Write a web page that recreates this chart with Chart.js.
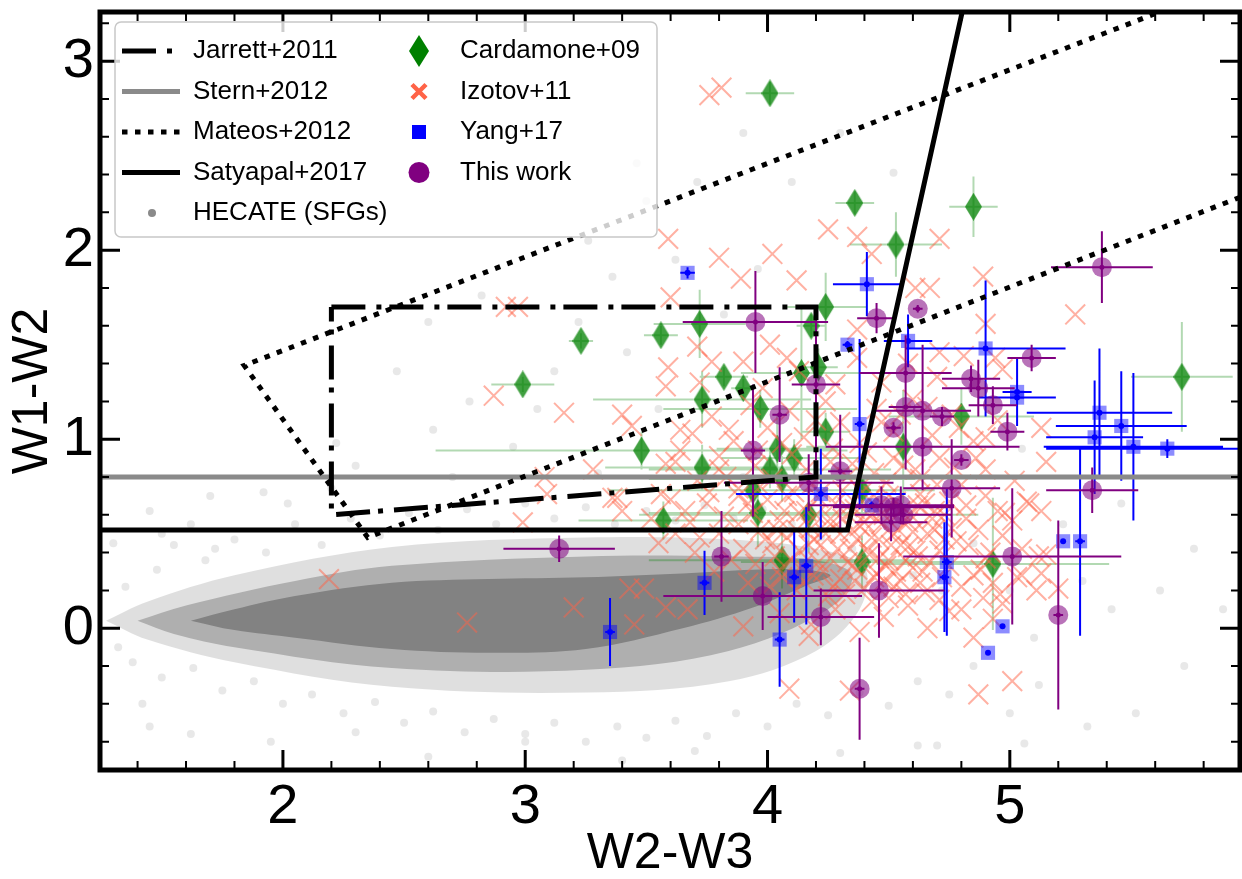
<!DOCTYPE html>
<html>
<head>
<meta charset="utf-8">
<script src="https://cdn.jsdelivr.net/npm/chart.js@4"></script>
<style>
html, body { margin: 0; padding: 0; background: #fff; }
#wrap { width: 1242px; height: 879px; }
</style>
</head>
<body>
<div id="wrap"><canvas id="c" width="1242" height="879"></canvas></div>
<script>
// axis ranges and tick labels
const xMin = 1.245, xMax = 5.95, yMin = -0.75, yMax = 3.26;
const xTickVals = [2, 3, 4, 5];
const yTickVals = [0, 1, 2, 3];

// diagnostic lines (W2-W3, W1-W2)
const jarrettBox = [[2.2, 1.7], [4.2, 1.7], [4.2, 0.8], [2.2, 0.6], [2.2, 1.7]];
const sternLine = [[1.0, 0.8], [6.2, 0.8]];
const mateosWedge = [[6.2, 3.548], [1.84, 1.39], [2.35, 0.48], [6.2, 2.405]];
const satyapalLine = [[1.0, 0.52], [4.33, 0.52], [4.85, 3.53]];

// Cardamone+09
const cardX = [4.01,4.36,4.85,4.53,4.24,4.18,3.72,3.56,3.23,2.99,3.82,3.90,3.73,3.97,4.14,4.21,4.24,3.48,3.73,4.04,4.11,4.01,4.06,3.94,3.96,3.57,4.17,4.39,4.06,4.39,4.93,4.56,4.80,5.71];
const cardY = [2.83,2.25,2.23,2.03,1.70,1.60,1.61,1.55,1.52,1.29,1.33,1.27,1.21,1.16,1.35,1.38,1.04,0.94,0.85,0.95,0.90,0.84,0.79,0.73,0.61,0.57,0.60,0.73,0.36,0.35,0.34,0.96,1.12,1.33];
const cardXerr = [0.10,0.08,0.10,0.19,0.17,0.06,0.19,0.07,0.05,0.13,0.10,0.05,0.45,0.40,0.25,0.08,0.10,0.85,0.40,0.25,0.30,0.50,0.55,0.60,0.45,0.35,0.70,0.30,0.55,0.50,0.48,0.40,0.30,0.21];
const cardYerr = [0.06,0.06,0.16,0.17,0.18,0.06,0.18,0.05,0.04,0.04,0.05,0.05,0.15,0.10,0.35,0.10,0.10,0.10,0.12,0.18,0.10,0.10,0.12,0.15,0.18,0.10,0.20,0.12,0.15,0.14,0.35,0.30,0.15,0.29];

// Yang+17
const yangX = [3.67,4.41,4.33,4.58,4.90,5.03,5.03,5.37,5.46,5.35,5.51,5.65,4.38,4.43,4.22,3.35,3.74,4.05,4.11,4.16,4.74,4.73,4.97,4.91,5.22,5.29];
const yangY = [1.88,1.82,1.50,1.52,1.48,1.25,1.22,1.14,1.07,1.01,0.96,0.95,1.08,0.65,0.71,-0.02,0.24,-0.06,0.27,0.33,0.35,0.27,0.01,-0.13,0.46,0.46];
const yangXerr = [0.03,0.14,0.02,0.10,0.33,0.06,0.16,0.30,0.27,0.20,0.37,0.50,0.02,0.15,0.35,0.02,0.02,0.02,0.02,0.02,0.02,0.02,0,0,0,0.02];
const yangYerr = [0.03,0.17,0.02,0.14,0.36,0.18,0.10,0.34,0.29,0.30,0.39,0.05,0.45,0.02,0.24,0.18,0.17,0.25,0.24,0.31,0.39,0.29,0,0,0,0.50];

// This work
const oursX = [3.95,5.38,4.62,4.45,5.09,4.57,4.84,4.87,4.93,4.57,4.64,4.72,4.99,4.52,4.64,4.80,4.76,5.34,4.05,4.20,3.94,4.30,4.17,4.47,4.52,4.55,4.51,4.56,3.14,3.81,3.98,4.22,4.46,4.38,5.01,5.20];
const oursY = [1.62,1.91,1.69,1.64,1.43,1.35,1.32,1.27,1.18,1.17,1.15,1.12,1.04,1.06,0.96,0.89,0.74,0.73,1.13,1.29,0.94,0.83,0.77,0.65,0.64,0.65,0.56,0.60,0.42,0.38,0.17,0.06,0.20,-0.32,0.38,0.07];
const oursXerr = [0.30,0.21,0.02,0.08,0.10,0.19,0.12,0.15,0.10,0.07,0.20,0.05,0.07,0.03,0.40,0.03,0.20,0.19,0.03,0.10,0.05,0.05,0.35,0.30,0.25,0.20,0.15,0.20,0.23,0.03,0.41,0.22,0.27,0.02,0.45,0.02];
const oursYerr = [0.27,0.19,0.02,0.08,0.07,0.20,0.07,0.15,0.10,0.33,0.35,0.05,0.10,0.03,0.23,0.03,0.26,0.12,0.25,0.40,0.35,0.30,0.15,0.10,0.05,0.10,0.10,0.05,0.07,0.24,0.18,0.15,0.25,0.27,0.36,0.50];

// Izotov+11 (x, y)
const izotovPts = [
  [2.19,0.26],[2.76,0.03],[3.20,0.11],[3.81,2.86],[3.76,2.82],
  [3.59,2.06],[3.80,1.96],[3.89,1.85],[4.02,1.98],[4.12,1.84],[4.25,2.11],[4.71,2.06],[4.89,1.86],[4.90,1.61],
  [3.60,1.75],[4.43,1.98],[4.61,1.80],[5.27,1.66],[2.92,1.70],[2.97,1.70],[2.87,1.23],[3.16,1.14],[3.40,1.13],
  [3.44,1.07],[3.59,1.38],[3.58,1.28],[3.69,1.03],[3.77,1.41],[3.28,0.84],[3.36,0.69],[3.09,0.71],[2.99,0.56],
  [3.64,0.94],[3.58,0.87],[3.80,0.84],[3.56,0.71],[3.38,0.69],[3.08,0.80],[3.71,1.49],[4.01,1.50],[4.08,1.43],
  [4.37,1.58],[4.37,2.07],
  [3.62,0.88],[3.71,0.78],[3.80,0.91],[3.88,0.74],[3.95,0.86],[4.02,0.79],[4.10,0.92],[4.18,0.76],[4.26,0.88],
  [4.33,0.80],[4.41,0.93],[4.49,0.77],[4.56,0.86],[4.63,0.79],[4.71,0.90],[4.80,0.76],[4.90,0.84],[5.02,0.78],[5.15,0.88],
  [3.64,1.05],[3.77,1.12],[3.86,0.99],[3.93,1.18],[4.00,1.06],[4.09,1.15],[4.15,1.01],[4.24,1.20],[4.30,1.09],
  [4.38,0.98],[4.45,1.16],[4.52,1.04],[4.60,1.21],[4.68,1.02],[4.76,1.13],[4.85,0.99],[4.95,1.10],
  [3.72,1.30],[3.90,1.41],[3.98,1.27],[4.13,1.36],[4.28,1.29],[4.37,1.43],[4.47,1.30],[4.58,1.40],[4.70,1.33],[4.81,1.44],[4.97,1.37],
  [3.40,0.62],[3.52,0.58],[3.60,0.68],[3.68,0.56],[3.75,0.66],[3.82,0.59],[3.88,0.70],[3.94,0.61],[4.00,0.68],
  [4.05,0.57],[4.11,0.72],[4.16,0.62],[4.21,0.69],[4.26,0.58],[4.31,0.73],[4.36,0.63],[4.40,0.56],[4.44,0.70],
  [4.48,0.60],[4.53,0.67],[4.58,0.56],[4.63,0.71],[4.69,0.62],[4.75,0.67],[4.82,0.58],[4.90,0.70],[4.98,0.61],[5.08,0.66],
  [3.55,0.45],[3.70,0.40],[3.80,0.50],[3.90,0.42],[3.97,0.52],[4.03,0.38],[4.08,0.48],[4.13,0.41],[4.18,0.53],
  [4.22,0.44],[4.26,0.37],[4.30,0.50],[4.34,0.42],[4.38,0.54],[4.42,0.39],[4.46,0.47],[4.50,0.36],[4.54,0.52],
  [4.58,0.43],[4.62,0.38],[4.66,0.50],[4.71,0.41],[4.76,0.53],[4.83,0.44],[4.90,0.37],[4.97,0.49],[5.05,0.42],[5.15,0.39],
  [3.78,0.30],[3.92,0.24],[4.05,0.31],[4.12,0.20],[4.19,0.28],[4.25,0.17],[4.30,0.26],[4.35,0.33],[4.40,0.21],
  [4.45,0.29],[4.50,0.16],[4.55,0.25],[4.60,0.32],[4.65,0.19],[4.72,0.27],[4.80,0.22],[4.88,0.31],[4.96,0.18],[5.03,0.27],[5.11,0.20],
  [4.05,0.08],[4.18,0.02],[4.28,0.10],[4.38,-0.02],[4.48,0.06],[4.58,0.12],[4.66,0.00],[4.75,0.09],[4.85,-0.05],[4.93,0.05],
  [4.02,0.45],[4.07,0.62],[4.14,0.33],[4.20,0.60],[4.24,0.50],[4.28,0.66],[4.33,0.35],[4.37,0.47],[4.41,0.61],
  [4.44,0.27],[4.47,0.55],[4.51,0.44],[4.55,0.62],[4.60,0.51],[4.64,0.30],[4.68,0.58],[4.73,0.47],[4.21,0.35],
  [4.27,0.22],[4.31,0.58],[4.36,0.25],[4.43,0.48],[4.49,0.33],[4.57,0.36],[4.62,0.65],[4.12,0.52],[4.06,0.27],
  [4.17,0.44],[4.52,0.22],[4.39,0.72],
  [3.45,0.02],[3.43,0.21],[3.49,0.21],[3.58,0.11],[3.67,0.10],[3.90,0.01],[4.09,-0.32],[4.17,-0.04],[4.34,-0.33],
  [4.87,-0.35],[5.01,-0.28],[5.07,0.67],[5.13,0.62],[5.01,0.57],[5.13,1.06],[4.90,1.01],[4.94,1.43],[4.71,1.46],
  [4.67,1.80],[4.89,0.16],[4.97,0.13],[4.93,0.24],[5.05,0.28],[5.13,0.29],[5.12,0.38],[5.20,0.21],
  [4.01,0.22],[4.04,0.52],[4.08,0.70],[4.10,0.36],[4.13,0.61],[4.15,0.25],[4.19,0.47],[4.22,0.72],[4.23,0.30],
  [4.26,0.55],[4.29,0.42],[4.32,0.18],[4.33,0.64],[4.35,0.52],[4.37,0.31],[4.40,0.66],[4.41,0.42],[4.43,0.14],
  [4.45,0.58],[4.46,0.37],[4.48,0.25],[4.50,0.70],[4.52,0.50],[4.53,0.30],[4.55,0.44],[4.57,0.18],[4.59,0.60],
  [4.61,0.41],[4.63,0.24],[4.65,0.66],[4.67,0.35],[4.69,0.52],[4.71,0.15],[4.73,0.60],[4.75,0.33],[4.78,0.46],
  [4.80,0.10],[4.82,0.65],[4.85,0.28],[4.87,0.52],[4.92,0.40],[4.95,0.62],[3.85,0.36],[3.88,0.55],[3.92,0.66],
  [3.95,0.34],[3.97,0.75],[3.99,0.47],[3.72,0.48],[3.76,0.72],[3.66,0.62],[3.62,0.50],[3.83,0.80],[4.16,0.84],
  [4.27,0.95],[4.35,0.87],[4.44,0.82],[4.52,0.90],[4.61,0.84],[4.70,0.76],[4.77,0.85],[4.86,0.90],[4.06,0.98],
  [4.20,1.10],[4.47,1.09],[4.55,1.13],[4.66,1.17],[4.79,1.06],[3.96,0.94],[3.84,1.05]
];

// HECATE (SFGs): dense core, halo outlines and scattered outliers
const hecateCore = [[1.62,0.04],[1.80,0.10],[2.05,0.17],[2.45,0.24],[2.85,0.26],[3.25,0.27],[3.65,0.29],[3.94,0.31],[4.15,0.31],[4.26,0.28],[4.15,0.22],[3.94,0.11],[3.65,0.00],[3.25,-0.11],[2.85,-0.13],[2.45,-0.11],[2.05,-0.05],[1.80,-0.01],[1.62,0.04]];
const hecateInner = [[1.40,0.04],[1.60,0.12],[2.05,0.25],[2.45,0.33],[3.25,0.38],[3.84,0.38],[4.20,0.36],[4.35,0.28],[4.25,0.10],[3.84,-0.12],[3.25,-0.22],[2.45,-0.21],[1.80,-0.10],[1.55,-0.03],[1.40,0.04]];
const hecateMid = [[1.27,0.04],[1.44,0.14],[1.80,0.28],[2.45,0.43],[3.25,0.48],[3.84,0.47],[4.20,0.42],[4.40,0.32],[4.38,0.10],[4.20,-0.12],[3.84,-0.28],[3.25,-0.34],[2.45,-0.31],[1.80,-0.18],[1.44,-0.06],[1.27,0.04]];
const hecateSparse = [
  [1.62,0.55],[1.92,0.72],[2.30,0.86],[2.62,1.05],[2.47,1.36],[2.77,1.20],[2.95,0.96],[3.12,1.36],[3.22,1.62],[3.36,1.86],
  [3.50,2.26],[3.62,1.95],[3.71,2.36],[3.90,2.62],[3.46,2.46],[3.26,2.05],[2.82,1.76],[2.60,1.62],[3.05,1.16],[3.42,1.46],
  [3.55,1.16],[3.82,1.66],[4.10,2.36],[4.30,2.62],[4.52,2.41],[4.20,1.56],[3.96,1.90],[2.22,0.98],[2.02,0.66],[1.72,0.42],
  [5.12,-0.30],[5.32,-0.52],[5.52,-0.45],[5.62,0.20],[5.42,0.10],[5.72,-0.20],[5.22,0.55],[5.46,0.66],[5.76,0.42],[5.06,-0.61],
  [4.62,-0.62],[1.42,-0.40],[1.62,-0.56],[1.50,0.50],[5.88,0.10],[5.05,0.95],[5.30,0.25],[3.00,-0.60],[2.30,-0.55],[3.70,-0.65],
  [1.35,0.22],[1.48,0.31],[1.55,0.44],[1.68,0.36],[1.80,0.47],[1.93,0.40],[2.05,0.55],[2.16,0.44],[2.28,0.58],[2.40,0.49],
  [2.52,0.61],[2.64,0.52],[2.76,0.63],[2.88,0.55],[3.00,0.66],[3.12,0.58],[3.25,0.64],[3.37,0.55],[3.50,0.62],[3.62,0.57],
  [3.74,0.65],[3.86,0.58],[3.98,0.63],[4.10,0.55],[4.22,0.48],[4.35,0.42],[4.48,0.35],[4.60,0.28],[4.72,0.20],
  [1.38,-0.18],[1.50,-0.26],[1.63,-0.21],[1.75,-0.33],[1.88,-0.28],[2.00,-0.40],[2.12,-0.35],[2.25,-0.45],[2.38,-0.39],[2.50,-0.50],
  [2.62,-0.44],[2.75,-0.55],[2.87,-0.48],[3.00,-0.56],[3.12,-0.50],[3.25,-0.60],[3.38,-0.52],[3.50,-0.58],[3.62,-0.49],[3.75,-0.57],
  [3.87,-0.45],[4.00,-0.52],[4.12,-0.40],[4.25,-0.46],[4.38,-0.34],[4.50,-0.41],[4.62,-0.28],[4.75,-0.35],[4.85,-0.20],
  [1.30,0.45],[1.45,0.62],[1.70,0.70],[2.20,0.74],[2.70,0.80],[3.30,0.82],[3.90,0.80],[4.50,0.62],[4.85,0.45],[5.00,0.20],
  [5.10,-0.05],[5.00,-0.45],[4.70,-0.62],[4.30,-0.66],[3.40,-0.70],[2.60,-0.68],[1.95,-0.60],[1.45,-0.52],[1.32,-0.10]
];

// legend labels
const legendLeft = ['Jarrett+2011', 'Stern+2012', 'Mateos+2012', 'Satyapal+2017', 'HECATE (SFGs)'];
const legendRight = ['Cardamone+09', 'Izotov+11', 'Yang+17', 'This work'];

const toXY = arr => arr.map(p => ({ x: p[0], y: p[1] }));
const zipXY = (xs, ys) => xs.map((x, i) => ({ x: x, y: ys[i] }));

function errSegments(xs, ys, xe, ye) {
    const out = [];
    xs.forEach((x, i) => {
        if (xe[i] > 0) out.push({ x: x - xe[i], y: ys[i] }, { x: x + xe[i], y: ys[i] }, { x: x, y: null });
        if (ye[i] > 0) out.push({ x: x, y: ys[i] - ye[i] }, { x: x, y: ys[i] + ye[i] }, { x: x, y: null });
    });
    return out;
}

function makeDiamond(w, h, color) {
    const c = document.createElement('canvas');
    c.width = w; c.height = h;
    const g = c.getContext('2d');
    g.fillStyle = color;
    g.beginPath();
    g.moveTo(w / 2, 0); g.lineTo(w, h / 2); g.lineTo(w / 2, h); g.lineTo(0, h / 2);
    g.closePath(); g.fill();
    return c;
}
const diamondImg = makeDiamond(17, 28, 'rgba(0,128,0,0.75)');

const FONT_NUM = "'Liberation Sans Narrow', 'Liberation Sans', sans-serif";
const FONT_TXT = "'Liberation Sans', 'DejaVu Sans', sans-serif";

const lineDs = (data, color, width, dash, order) => ({
    data: toXY(data), showLine: true, pointRadius: 0, borderColor: color,
    borderWidth: width, borderDash: dash, borderCapStyle: 'butt', borderJoinStyle: 'miter',
    fill: false, order: order
});

const blobDs = (data, color, order) => ({
    data: toXY(data), showLine: true, pointRadius: 0, borderWidth: 0,
    borderColor: 'rgba(0,0,0,0)', backgroundColor: color, fill: 'shape', tension: 0.35, order: order
});

const errDs = (xs, ys, xe, ye, color, order) => ({
    data: errSegments(xs, ys, xe, ye), showLine: true, spanGaps: false, pointRadius: 0,
    borderColor: color, borderWidth: 2, fill: false, order: order
});

const datasets = [
    lineDs(satyapalLine, '#000', 5, [], 1),
    lineDs(jarrettBox, '#000', 5, [34, 11, 5, 8], 2),
    lineDs(mateosWedge, '#000', 5, [5.5, 7.5], 3),
    lineDs(sternLine, '#8a8a8a', 5, [], 4),
    { data: zipXY(oursX, oursY), pointRadius: 2.5, pointBackgroundColor: '#800080', pointBorderWidth: 0, order: 10 },
    { data: zipXY(oursX, oursY), pointRadius: 10, pointBackgroundColor: 'rgba(128,0,128,0.55)', pointBorderWidth: 0, order: 11 },
    errDs(oursX, oursY, oursXerr, oursYerr, '#800080', 12),
    { data: zipXY(yangX, yangY), pointRadius: 3, pointBackgroundColor: '#0000ff', pointBorderWidth: 0, order: 13 },
    { data: zipXY(yangX, yangY), pointStyle: 'rect', pointRadius: 10, pointBackgroundColor: 'rgba(0,0,255,0.45)', pointBorderWidth: 0, order: 14 },
    errDs(yangX, yangY, yangXerr, yangYerr, '#0000ff', 15),
    { data: toXY(izotovPts), pointStyle: 'crossRot', pointRadius: 14, pointBorderColor: 'rgba(255,99,71,0.5)', pointBorderWidth: 2, order: 16 },
    { data: zipXY(cardX, cardY), pointStyle: diamondImg, order: 17 },
    errDs(cardX, cardY, cardXerr, cardYerr, 'rgba(0,128,0,0.3)', 18),
    { data: toXY(hecateSparse), pointRadius: 4, pointBackgroundColor: 'rgba(128,128,128,0.18)', pointBorderWidth: 0, order: 19 },
    blobDs(hecateCore, 'rgba(128,128,128,0.95)', 20),
    blobDs(hecateInner, 'rgba(128,128,128,0.5)', 21),
    blobDs(hecateMid, 'rgba(128,128,128,0.25)', 22)
];

function drawLegend(ctx) {
    ctx.save();
    const bx = 115, by = 22, bw = 542, bh = 215, r = 6;
    ctx.beginPath();
    ctx.moveTo(bx + r, by);
    ctx.arcTo(bx + bw, by, bx + bw, by + bh, r);
    ctx.arcTo(bx + bw, by + bh, bx, by + bh, r);
    ctx.arcTo(bx, by + bh, bx, by, r);
    ctx.arcTo(bx, by, bx + bw, by, r);
    ctx.closePath();
    ctx.fillStyle = 'rgba(255,255,255,0.8)';
    ctx.fill();
    ctx.lineWidth = 1.5;
    ctx.strokeStyle = '#c8c8c8';
    ctx.stroke();

    ctx.font = '26px ' + FONT_TXT;
    ctx.textBaseline = 'middle';
    ctx.fillStyle = '#000';
    const rowY = i => 51 + i * 40.5;

    // left column swatches
    const swatch = (i, color, dash) => {
        ctx.beginPath();
        ctx.setLineDash(dash);
        ctx.lineWidth = 5;
        ctx.lineCap = 'butt';
        ctx.strokeStyle = color;
        ctx.moveTo(122, rowY(i)); ctx.lineTo(180, rowY(i));
        ctx.stroke();
        ctx.setLineDash([]);
    };
    swatch(0, '#000', [34, 11, 5, 8]);
    swatch(1, '#8a8a8a', []);
    swatch(2, '#000', [5.5, 7.5]);
    swatch(3, '#000', []);
    ctx.beginPath(); ctx.fillStyle = '#8a8a8a';
    ctx.arc(152, rowY(4), 4, 0, Math.PI * 2); ctx.fill();

    // right column markers
    const mx = 419;
    ctx.fillStyle = 'rgb(0,128,0)';
    ctx.beginPath();
    ctx.moveTo(mx, rowY(0) - 16); ctx.lineTo(mx + 10, rowY(0)); ctx.lineTo(mx, rowY(0) + 16); ctx.lineTo(mx - 10, rowY(0));
    ctx.closePath(); ctx.fill();
    ctx.strokeStyle = 'rgb(255,99,71)'; ctx.lineWidth = 4.5;
    ctx.beginPath();
    ctx.moveTo(mx - 7, rowY(1) - 7); ctx.lineTo(mx + 7, rowY(1) + 7);
    ctx.moveTo(mx + 7, rowY(1) - 7); ctx.lineTo(mx - 7, rowY(1) + 7);
    ctx.stroke();
    ctx.fillStyle = '#0000ff';
    ctx.fillRect(mx - 7, rowY(2) - 7, 14, 14);
    ctx.fillStyle = '#800080';
    ctx.beginPath(); ctx.arc(mx, rowY(3), 10.5, 0, Math.PI * 2); ctx.fill();

    ctx.fillStyle = '#000';
    legendLeft.forEach((t, i) => ctx.fillText(t, 193, rowY(i)));
    legendRight.forEach((t, i) => ctx.fillText(t, 460, rowY(i)));
    ctx.restore();
}

const framePlugin = {
    id: 'frame',
    afterDraw(chart) {
        const ctx = chart.ctx, a = chart.chartArea;
        const sx = chart.scales.x, sy = chart.scales.y;
        ctx.save();
        ctx.strokeStyle = '#000';
        ctx.lineCap = 'butt';
        const xt = (v, len, w) => {
            const p = sx.getPixelForValue(v);
            ctx.lineWidth = w; ctx.beginPath();
            ctx.moveTo(p, a.bottom); ctx.lineTo(p, a.bottom - len);
            ctx.moveTo(p, a.top); ctx.lineTo(p, a.top + len);
            ctx.stroke();
        };
        const yt = (v, len, w) => {
            const p = sy.getPixelForValue(v);
            ctx.lineWidth = w; ctx.beginPath();
            ctx.moveTo(a.left, p); ctx.lineTo(a.left + len, p);
            ctx.moveTo(a.right, p); ctx.lineTo(a.right - len, p);
            ctx.stroke();
        };
        for (let k = 7; k <= 29; k++) if (k % 5) xt(k / 5, 9, 2);
        for (let k = -3; k <= 16; k++) if (k % 5) yt(k / 5, 9, 2);
        xTickVals.forEach(v => xt(v, 20, 3));
        yTickVals.forEach(v => yt(v, 20, 3));
        ctx.lineWidth = 5;
        ctx.strokeRect(a.left, a.top, a.right - a.left, a.bottom - a.top);
        ctx.restore();
        drawLegend(ctx);
    }
};

const noPad = s => { s.paddingTop = 0; s.paddingBottom = 0; s.paddingLeft = 0; s.paddingRight = 0; };

new Chart(document.getElementById('c'), {
    type: 'scatter',
    data: { datasets: datasets },
    options: {
        responsive: false,
        animation: false,
        devicePixelRatio: 1,
        layout: { autoPadding: false, padding: { top: 12, right: 2, left: 0, bottom: 0 } },
        plugins: { legend: { display: false }, tooltip: { enabled: false } },
        scales: {
            x: {
                type: 'linear', min: xMin, max: xMax,
                afterBuildTicks: s => { s.ticks = xTickVals.map(v => ({ value: v })); },
                afterFit: s => { s.height = 109; noPad(s); },
                grid: { display: false, drawTicks: false },
                border: { display: false },
                ticks: { font: { family: FONT_NUM, size: 56 }, color: '#000', padding: 4, autoSkip: false, maxRotation: 0 },
                title: { display: true, text: 'W2-W3', color: '#000', font: { family: FONT_TXT, size: 50, lineHeight: 1 }, padding: { top: 0, bottom: 0 } }
            },
            y: {
                type: 'linear', min: yMin, max: yMax,
                afterBuildTicks: s => { s.ticks = yTickVals.map(v => ({ value: v })); },
                afterFit: s => { s.width = 100; noPad(s); },
                grid: { display: false, drawTicks: false },
                border: { display: false },
                ticks: { font: { family: FONT_NUM, size: 56 }, color: '#000', padding: 6, autoSkip: false },
                title: { display: true, text: 'W1-W2', color: '#000', font: { family: FONT_TXT, size: 50, lineHeight: 1 }, padding: { top: 8, bottom: 0 } }
            }
        }
    },
    plugins: [framePlugin]
});
</script>
</body>
</html>
